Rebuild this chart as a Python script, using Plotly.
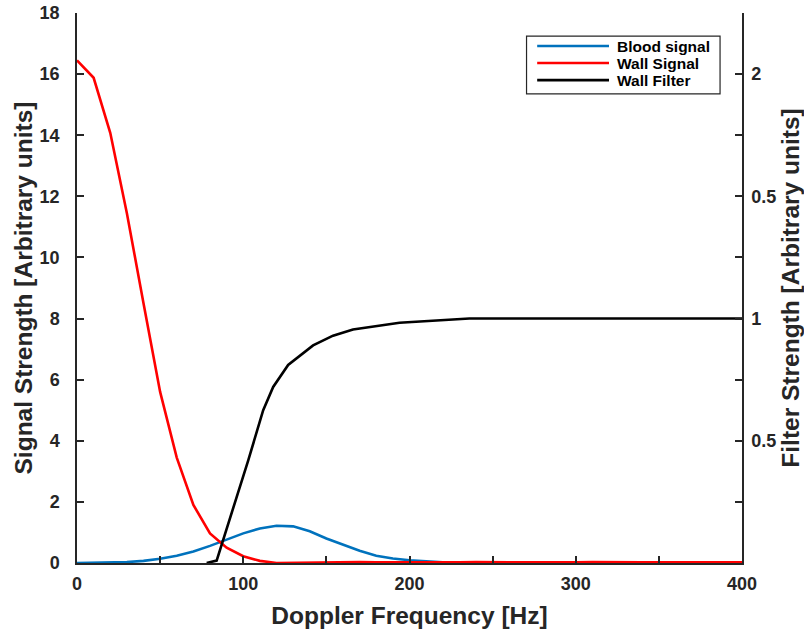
import plotly.graph_objects as go

# Doppler frequency grid (Hz) for the two signal spectra
freq_hz = [0, 10, 20, 30, 40, 50, 60, 70, 80, 90, 100, 110, 120, 130, 140, 150,
           160, 170, 180, 190, 200, 210, 220, 230, 240, 250, 260, 270, 280, 290,
           300, 310, 320, 330, 340, 350, 360, 370, 380, 390, 400]

blood_signal = [0.0, 0.003, 0.01, 0.03, 0.07, 0.14, 0.24, 0.38, 0.56, 0.76, 0.97,
                1.13, 1.22, 1.2, 1.04, 0.8, 0.6, 0.4, 0.24, 0.15, 0.09, 0.05,
                0.025, 0.01, 0.004, 0.0, 0.0, 0.0, 0.0, 0.0, 0.0, 0.0, 0.0, 0.0,
                0.0, 0.0, 0.0, 0.0, 0.0, 0.0, 0.0]

wall_signal = [16.45, 15.88, 14.08, 11.45, 8.5, 5.6, 3.45, 1.9, 0.97, 0.5, 0.22,
               0.07, 0.0, 0.01, 0.02, 0.01, 0.02, 0.03, 0.02, 0.01, 0.02, 0.02,
               0.01, 0.02, 0.03, 0.02, 0.01, 0.02, 0.02, 0.01, 0.02, 0.03, 0.02,
               0.01, 0.02, 0.02, 0.01, 0.02, 0.02, 0.01, 0.02]

# Wall (high-pass) filter response, on its own frequency samples
filter_hz = [78, 84, 103, 112, 118, 127, 142, 154, 166, 194, 236, 400]
wall_filter = [0.0, 0.01, 0.42, 0.625, 0.72, 0.81, 0.89, 0.93, 0.955, 0.983, 1.0, 1.0]

# Axis ticks
x_ticks = [0, 50, 100, 150, 200, 250, 300, 350, 400]
x_ticktext = ["0", "", "100", "", "200", "", "300", "", "400"]
x_top_ticks = [50, 100, 150, 200, 300, 350]
y_ticks = [0, 2, 4, 6, 8, 10, 12, 14, 16, 18]
y2_ticks = [0.25, 0.5, 0.75, 1.0, 1.25, 1.5, 1.75, 2.0]
y2_ticktext = ["", "0.5", "", "1", "", "0.5", "", "2"]

FONT = "Liberation Sans, Arial, Helvetica, sans-serif"
INK = "#262626"
LINE_W = 2.6

series = [
    ("Blood signal", freq_hz, blood_signal, "#0072BD", "y"),
    ("Wall Signal", freq_hz, wall_signal, "#FF0000", "y"),
    ("Wall Filter", filter_hz, wall_filter, "#000000", "y2"),
]

fig = go.Figure()
for name, xs, ys, color, yax in series:
    fig.add_trace(go.Scatter(x=xs, y=ys, mode="lines", name=name, yaxis=yax,
                             showlegend=False, line=dict(color=color, width=LINE_W)))

axis_common = dict(showgrid=False, zeroline=False, showline=True, linecolor=INK,
                   linewidth=1.5, ticks="inside", ticklen=7, tickwidth=1.5,
                   tickcolor=INK, automargin=False,
                   tickfont=dict(family=FONT, size=18, color=INK))
title_font = dict(family=FONT, size=24.5, color=INK)

fig.update_layout(
    width=804, height=634,
    margin=dict(l=77, r=62, t=13, b=71),
    plot_bgcolor="white", paper_bgcolor="white",
    font=dict(family=FONT, color=INK),
    xaxis=dict(range=[0, 400], tickmode="array", tickvals=x_ticks,
               ticktext=[f"<b>{t}</b>" if t else "" for t in x_ticktext],
               ticklabelstandoff=4,
               title=dict(text="<b>Doppler Frequency [Hz]</b>", font=title_font,
                          standoff=14),
               **axis_common),
    xaxis2=dict(range=[0, 400], overlaying="x", side="top", anchor="y",
                tickmode="array", tickvals=x_top_ticks, showticklabels=False,
                **axis_common),
    yaxis=dict(range=[0, 18], tickmode="array", tickvals=y_ticks,
               ticktext=[f"<b>{v}</b>" for v in y_ticks],
               ticklabelstandoff=12,
               title=dict(text="<b>Signal Strength [Arbitrary units]</b>",
                          font=title_font, standoff=0),
               **axis_common),
    yaxis2=dict(range=[0, 2.25], overlaying="y", side="right", tickmode="array",
                tickvals=y2_ticks, ticktext=[f"<b>{t}</b>" for t in y2_ticktext],
                ticklabelstandoff=4,
                title=dict(text="<b>Filter Strength [Arbitrary units]</b>",
                           font=title_font, standoff=8),
                **axis_common),
    showlegend=False,
)

# Boxed legend in the upper right of the plot area (paper coordinates)
box_x0, box_x1, box_y0, box_y1 = 0.676, 0.967, 0.853, 0.958
line_x0, line_x1, text_x = 0.692, 0.800, 0.809
row_y = [0.940, 0.909, 0.878]
fig.add_shape(type="rect", xref="paper", yref="paper", x0=box_x0, x1=box_x1,
              y0=box_y0, y1=box_y1, line=dict(color=INK, width=1.2),
              fillcolor="white", layer="above")
for (name, _, _, color, _), ry in zip(series, row_y):
    fig.add_shape(type="line", xref="paper", yref="paper", x0=line_x0, x1=line_x1,
                  y0=ry, y1=ry, line=dict(color=color, width=LINE_W), layer="above")
    fig.add_annotation(xref="paper", yref="paper", x=text_x, y=ry, text=f"<b>{name}</b>",
                       showarrow=False, xanchor="left", yanchor="middle",
                       font=dict(family=FONT, size=15.5, color="#000000"))

fig.write_html("out.html")
